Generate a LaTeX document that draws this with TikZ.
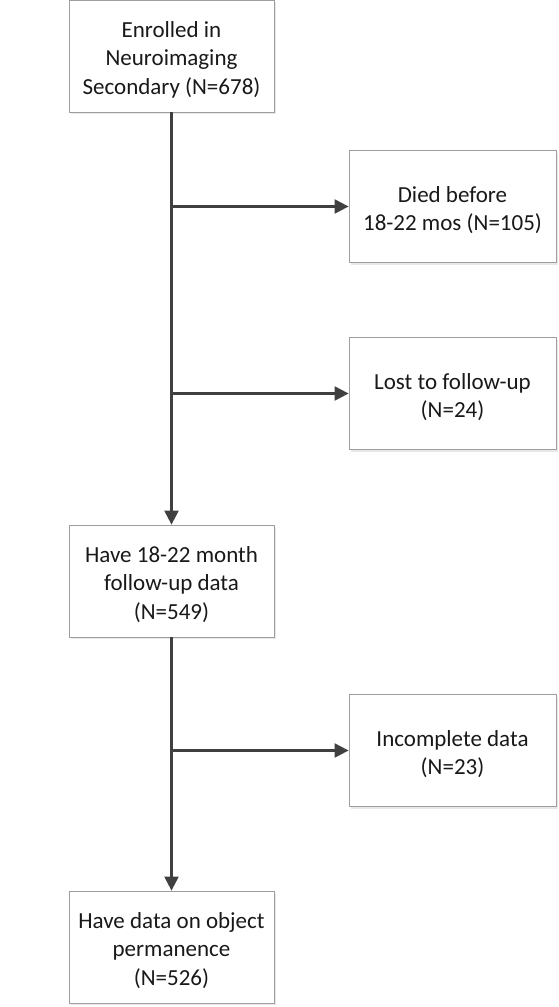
\documentclass[tikz,border=0pt]{standalone}
\usepackage{fontspec}
\setmainfont{Carlito}
\usetikzlibrary{arrows.meta,shadows}
\begin{document}
\begin{tikzpicture}[x=1pt,y=-1pt,
  box/.style={draw=black!38, line width=0.8pt, fill=white, minimum width=205pt, minimum height=112pt,
    inner sep=0pt, drop shadow={shadow xshift=2pt,shadow yshift=-2pt,fill=black!18}},
  sidebox/.style={box, minimum width=207pt},
  txt/.style={align=center, font=\fontsize{23}{28.5}\selectfont, inner sep=0pt, yshift=-3.5pt, text=black!90},
  conn/.style={draw=black!75, line width=2.2pt, -{Triangle[length=14pt,width=14pt]}}]
\useasboundingbox (0,0) rectangle (559,1007);
\node[box] (enr) at (171.5,56) {};
\node[txt] (enrT) at (enr) {Enrolled in\\Neuroimaging\\Secondary (N=678)};
\node[sidebox] (died) at (452.5,206.5) {};
\node[txt] (diedT) at (died) {Died before\\18-22 mos (N=105)};
\node[sidebox] (lost) at (452.5,393.5) {};
\node[txt] (lostT) at (lost) {Lost to follow-up\\(N=24)};
\node[box] (fu) at (171.5,581) {};
\node[txt] (fuT) at (fu) {Have 18-22 month\\follow-up data\\(N=549)};
\node[sidebox] (inc) at (452.5,750.5) {};
\node[txt] (incT) at (inc) {Incomplete data\\(N=23)};
\node[box] (obj) at (171.5,947) {};
\node[txt] (objT) at (obj) {Have data on object\\permanence\\(N=526)};
\draw[conn] (enr.south) -- (fu.north);
\draw[conn] (enr.south |- died.west) -- (died.west);
\draw[conn] (enr.south |- lost.west) -- (lost.west);
\draw[conn] (fu.south) -- (obj.north);
\draw[conn] (fu.south |- inc.west) -- (inc.west);
\end{tikzpicture}
\end{document}
